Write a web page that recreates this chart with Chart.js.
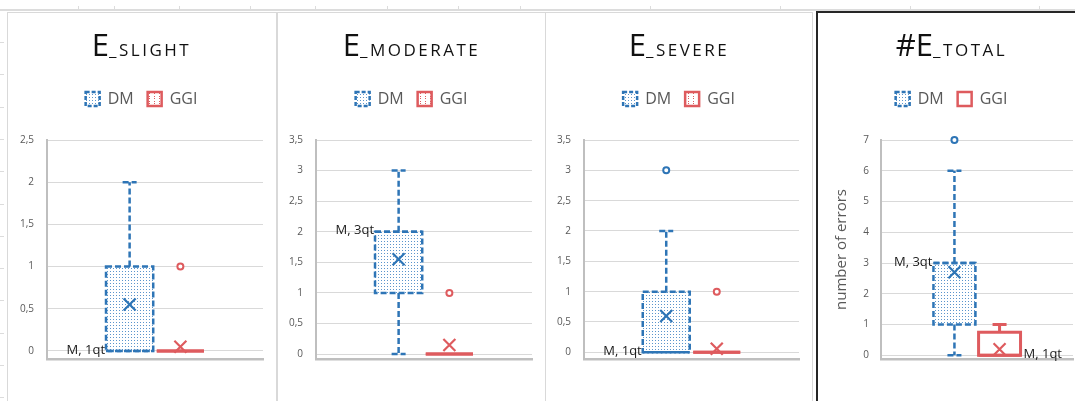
<!DOCTYPE html>
<html>
<head>
<meta charset="utf-8">
<script src="https://cdn.jsdelivr.net/npm/chart.js@4.4.1/dist/chart.umd.min.js"></script>
<style>
  html, body { margin: 0; padding: 0; background: #fff; }
  body { width: 1075px; height: 401px; position: relative; overflow: hidden; font-family: 'Open Sans', sans-serif; }
  #sheet { position: absolute; left: 0; top: 0; }
  .frame { position: absolute; top: 12px; height: 400px; border: 1px solid #d9d9d9; box-sizing: border-box; }
  .frame.active { top: 11px; border: 2px solid #262626; }
  .chart { position: absolute; top: 12px; }
  .title { position: absolute; top: 29px; text-align: center; color: #111; font-weight: 400; white-space: nowrap; line-height: 31px; }
  .title .big { font-size: 31px; }
  .title .sc { font-size: 17px; letter-spacing: 2.5px; }
</style>
</head>
<body>
<canvas id="sheet" width="1075" height="401"></canvas>
<div class="frame" style="left:7px;width:270px"></div>
<div class="frame" style="left:277px;width:269px"></div>
<div class="frame" style="left:545px;width:268px"></div>
<div class="frame active" style="left:816px;width:270px"></div>
<canvas class="chart" id="slight" width="269" height="389" style="left:7px"></canvas>
<canvas class="chart" id="moderate" width="267" height="389" style="left:278px"></canvas>
<canvas class="chart" id="severe" width="266" height="389" style="left:546px"></canvas>
<canvas class="chart" id="total" width="269" height="389" style="left:817px"></canvas>
<div class="title" style="left:7px;width:269px"><span class="big">E</span><span class="sc">_SLIGHT</span></div>
<div class="title" style="left:278px;width:267px"><span class="big">E</span><span class="sc">_MODERATE</span></div>
<div class="title" style="left:546px;width:266px"><span class="big">E</span><span class="sc">_SEVERE</span></div>
<div class="title" style="left:817px;width:269px"><span class="big">#E</span><span class="sc">_TOTAL</span></div>
<script>
const series = ['DM', 'GGI'];

// each box: [min, q1, median, q3, max]
const slightDM = [0, 0, 0, 1, 2];
const slightGGI = [0, 0, 0, 0, 0];
const slightMeans = [0.55, 0.05];
const slightOutliers = [[], [1]];
const slightLabels = ['M, 1qt', ''];
const slightTicks = [0, 0.5, 1, 1.5, 2, 2.5];

const moderateDM = [0, 1, 2, 2, 3];
const moderateGGI = [0, 0, 0, 0, 0];
const moderateMeans = [1.55, 0.15];
const moderateOutliers = [[], [1]];
const moderateLabels = ['M, 3qt', ''];
const moderateTicks = [0, 0.5, 1, 1.5, 2, 2.5, 3, 3.5];

const severeDM = [0, 0, 0, 1, 2];
const severeGGI = [0, 0, 0, 0, 0];
const severeMeans = [0.6, 0.06];
const severeOutliers = [[3], [1]];
const severeLabels = ['M, 1qt', ''];
const severeTicks = [0, 0.5, 1, 1.5, 2, 2.5, 3, 3.5];

const totalDM = [0, 1, 3, 3, 6];
const totalGGI = [0, 0, 0, 0.75, 1];
const totalMeans = [2.7, 0.2];
const totalOutliers = [[7], []];
const totalLabels = ['M, 3qt', 'M, 1qt'];
const totalTicks = [0, 1, 2, 3, 4, 5, 6, 7];

const BLUE = '#2e75b6';
const RED = '#de5b5e';
const FONT = "'Open Sans', sans-serif";

// spreadsheet behind the charts
(function() {
  const g = document.getElementById('sheet').getContext('2d');
  g.fillStyle = '#dcdcdc';
  g.fillRect(0, 9, 1075, 2);
  [78, 114, 179, 250, 315, 387, 458, 520, 650, 780, 910, 1039].forEach(x => g.fillRect(x, 6, 1, 4));
  for (let y = 42; y < 401; y += 32.3) g.fillRect(0, Math.round(y), 4, 1);
})();

function dotPattern(color, size, dots) {
  const c = document.createElement('canvas');
  c.width = c.height = size;
  const g = c.getContext('2d');
  g.fillStyle = '#fff';
  g.fillRect(0, 0, size, size);
  g.fillStyle = color;
  dots.forEach(d => g.fillRect(d[0], d[1], 1, 1));
  return g.createPattern(c, 'repeat');
}
const dmFill = dotPattern('#5b95cc', 3, [[1, 1]]);
const ggiFill = dotPattern(RED, 5, [[2, 1], [2, 4]]);

// whiskers, box outline, mean, outliers and median labels
const boxPlot = {
  id: 'boxPlot',
  afterDatasetsDraw(chart, args, opts) {
    const ctx = chart.ctx;
    const y = chart.scales.y;
    opts.stats.forEach((s, i) => {
      const bar = chart.getDatasetMeta(i).data[0];
      const cx = bar.x, half = bar.width / 2;
      const p = s.map(v => y.getPixelForValue(v));
      ctx.save();
      ctx.strokeStyle = opts.colors[i];
      ctx.lineWidth = opts.widths[i];
      ctx.setLineDash(opts.dashes[i]);
      ctx.beginPath();
      if (s[4] > s[3]) {
        ctx.moveTo(cx, p[3]); ctx.lineTo(cx, p[4]);
        ctx.moveTo(cx - 7, p[4]); ctx.lineTo(cx + 7, p[4]);
      }
      if (s[0] < s[1]) {
        ctx.moveTo(cx, p[1]); ctx.lineTo(cx, p[0]);
        ctx.moveTo(cx - 7, p[0]); ctx.lineTo(cx + 7, p[0]);
      }
      ctx.stroke();
      ctx.strokeRect(cx - half, p[3], half * 2, p[1] - p[3]);
      ctx.beginPath();
      ctx.moveTo(cx - half, p[2]); ctx.lineTo(cx + half, p[2]);
      ctx.stroke();

      ctx.setLineDash([]);
      ctx.lineWidth = 2.2;
      const pm = y.getPixelForValue(opts.means[i]);
      ctx.beginPath();
      ctx.moveTo(cx - 6, pm - 6); ctx.lineTo(cx + 6, pm + 6);
      ctx.moveTo(cx + 6, pm - 6); ctx.lineTo(cx - 6, pm + 6);
      ctx.stroke();

      ctx.lineWidth = 2;
      ctx.fillStyle = '#fff';
      opts.outliers[i].forEach(v => {
        ctx.beginPath();
        ctx.arc(cx, y.getPixelForValue(v), 3, 0, Math.PI * 2);
        ctx.fill();
        ctx.stroke();
      });

      if (opts.labels[i]) {
        ctx.fillStyle = '#1a1a1a';
        ctx.font = '13px ' + FONT;
        ctx.textBaseline = 'middle';
        ctx.textAlign = i === 0 ? 'right' : 'left';
        ctx.fillText(opts.labels[i], i === 0 ? cx - half - 1 : cx + half + 3, p[2] - 1);
      }
      ctx.restore();
    });
  }
};

function makeChart(id, stats, means, outliers, labels, ticks, yMin, yWidth, ggiLegendFill, axisTitle) {
  const tickPad = axisTitle ? 12 : 13;
  new Chart(document.getElementById(id), {
    type: 'bar',
    data: {
      labels: [''],
      datasets: series.map((name, i) => ({
        label: name,
        data: [[stats[i][1], stats[i][3]]],
        backgroundColor: i === 0 ? dmFill : '#fff',
        borderWidth: 0,
        barPercentage: 0.93,
        categoryPercentage: 0.47,
        xAxisID: 'x',
        yAxisID: 'y'
      }))
    },
    options: {
      responsive: false,
      animation: false,
      layout: { padding: { top: 65, bottom: 42, left: 0, right: 0 } },
      plugins: {
        tooltip: { enabled: false },
        legend: {
          position: 'top',
          labels: {
            boxWidth: 14,
            boxHeight: 14,
            padding: 14,
            font: { size: 16, family: FONT },
            generateLabels: () => series.map((name, i) => ({
              text: name,
              fillStyle: i === 0 ? dmFill : ggiLegendFill,
              strokeStyle: i === 0 ? BLUE : RED,
              lineWidth: 2.5,
              lineDash: i === 0 ? [4, 2] : [],
              fontColor: '#595959',
              hidden: false,
              datasetIndex: i
            }))
          }
        },
        boxPlot: {
          stats: stats, means: means, outliers: outliers, labels: labels,
          colors: [BLUE, RED], widths: [2.5, 3], dashes: [[6, 3], []]
        }
      },
      scales: {
        x: {
          grid: { display: false },
          ticks: { display: false },
          border: { color: '#bfbfbf', width: 2.5 },
          afterFit: s => { s.height = 0; }
        },
        gapTop: {
          type: 'linear', position: 'top',
          grid: { display: false }, ticks: { display: false }, border: { display: false },
          afterFit: s => { s.height = 23; }
        },
        gapRight: {
          type: 'linear', position: 'right',
          grid: { display: false }, ticks: { display: false }, border: { display: false },
          afterFit: s => { s.width = 13; }
        },
        y: {
          min: yMin,
          max: ticks[ticks.length - 1],
          afterBuildTicks: s => { s.ticks = ticks.map(v => ({ value: v })); },
          afterFit: s => { s.width = yWidth; },
          ticks: {
            callback: v => String(v).replace('.', ','),
            color: '#595959',
            font: { size: 10, family: FONT },
            padding: tickPad
          },
          grid: { color: '#d9d9d9', lineWidth: 1, drawTicks: false },
          border: { color: '#bfbfbf', width: 2 },
          title: axisTitle ? {
            display: true, text: axisTitle, color: '#595959',
            font: { size: 15, family: FONT }, padding: { top: 16, bottom: 0 }
          } : { display: false }
        }
      }
    },
    plugins: [boxPlot]
  });
}

makeChart('slight', [slightDM, slightGGI], slightMeans, slightOutliers, slightLabels, slightTicks, -0.095, 40, ggiFill);
makeChart('moderate', [moderateDM, moderateGGI], moderateMeans, moderateOutliers, moderateLabels, moderateTicks, -0.08, 38, ggiFill);
makeChart('severe', [severeDM, severeGGI], severeMeans, severeOutliers, severeLabels, severeTicks, -0.11, 38, ggiFill);
makeChart('total', [totalDM, totalGGI], totalMeans, totalOutliers, totalLabels, totalTicks, -0.12, 64, '#fff', 'number of errors');
</script>
</body>
</html>
